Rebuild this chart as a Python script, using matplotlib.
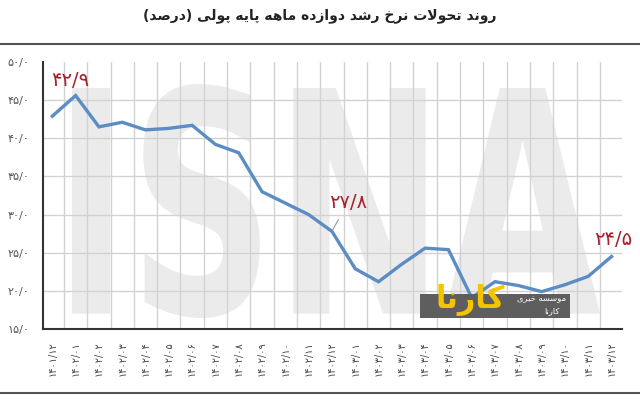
import matplotlib
matplotlib.use("Agg")
import matplotlib.pyplot as plt
from matplotlib.textpath import TextPath
from matplotlib.patches import PathPatch, Rectangle
from matplotlib.font_manager import FontProperties
from matplotlib.transforms import Affine2D
from matplotlib.lines import Line2D

# data (percent)
labels = ['1401/12', '1402/01', '1402/02', '1402/03', '1402/04', '1402/05', '1402/06',
          '1402/07', '1402/08', '1402/09', '1402/10', '1402/11', '1402/12',
          '1403/01', '1403/02', '1403/03', '1403/04', '1403/05', '1403/06',
          '1403/07', '1403/08', '1403/09', '1403/10', '1403/11', '1403/12']
growth = [42.9, 45.6, 41.5, 42.1, 41.1, 41.3, 41.7, 39.2, 38.1, 33.0, 31.5, 30.0, 27.8,
          22.9, 21.2, 23.5, 25.6, 25.4, 19.1, 21.2, 20.7, 19.9, 20.8, 21.9, 24.5]
yticks = [15, 20, 25, 30, 35, 40, 45, 50]
callouts = [(0, '42/9', 18, 36), (12, '27/8', 16, 29), (24, '24/5', 2, 17)]

title = 'روند تحولات نرخ رشد دوازده ماهه پایه پولی (درصد)'

# small arabic shaper (no bidi lib available): isolated, final, initial, medial
FORMS = {
    'ا': ('\uFE8D', '\uFE8E', None, None),
    'ب': ('\uFE8F', '\uFE90', '\uFE91', '\uFE92'),
    'پ': ('\uFB56', '\uFB57', '\uFB58', '\uFB59'),
    'ت': ('\uFE95', '\uFE96', '\uFE97', '\uFE98'),
    'ح': ('\uFEA1', '\uFEA2', '\uFEA3', '\uFEA4'),
    'خ': ('\uFEA5', '\uFEA6', '\uFEA7', '\uFEA8'),
    'د': ('\uFEA9', '\uFEAA', None, None),
    'ر': ('\uFEAD', '\uFEAE', None, None),
    'ز': ('\uFEAF', '\uFEB0', None, None),
    'س': ('\uFEB1', '\uFEB2', '\uFEB3', '\uFEB4'),
    'ش': ('\uFEB5', '\uFEB6', '\uFEB7', '\uFEB8'),
    'ص': ('\uFEB9', '\uFEBA', '\uFEBB', '\uFEBC'),
    'ک': ('\uFB8E', '\uFB8F', '\uFB90', '\uFB91'),
    'ل': ('\uFEDD', '\uFEDE', '\uFEDF', '\uFEE0'),
    'م': ('\uFEE1', '\uFEE2', '\uFEE3', '\uFEE4'),
    'ن': ('\uFEE5', '\uFEE6', '\uFEE7', '\uFEE8'),
    'ه': ('\uFEE9', '\uFEEA', '\uFEEB', '\uFEEC'),
    'و': ('\uFEED', '\uFEEE', None, None),
    'ی': ('\uFBFC', '\uFBFD', '\uFBFE', '\uFBFF'),
}


def joins_next(c):
    return c in FORMS and FORMS[c][2] is not None


def rtl(txt):
    res = []
    i = 0
    while i < len(txt):
        c = txt[i]
        if c not in FORMS:
            res.append(c)
            i += 1
            continue
        cp = i > 0 and joins_next(txt[i - 1])
        if c == 'ل' and i + 1 < len(txt) and txt[i + 1] == 'ا':
            res.append('\uFEFC' if cp else '\uFEFB')
            i += 2
            continue
        cn = joins_next(c) and i + 1 < len(txt) and txt[i + 1] in FORMS
        f = FORMS[c]
        if cp and cn:
            res.append(f[3])
        elif cp:
            res.append(f[1])
        elif cn:
            res.append(f[2])
        else:
            res.append(f[0])
        i += 1
    return ''.join(reversed(res)).translate(str.maketrans('()', ')('))


def fa(s):
    return s.translate(str.maketrans('0123456789', '۰۱۲۳۴۵۶۷۸۹'))


plt.rcParams['font.family'] = ['DejaVu Sans']

W, H = 640, 399
fig = plt.figure(figsize=(6.4, 3.99), dpi=100)

# title and rules
fig.text(320 / W, 1 - 16 / H, rtl(title), ha='center', va='center',
         fontsize=10, fontweight='bold', color='#222222')
fig.add_artist(Line2D([0, 1], [1 - 44 / H, 1 - 44 / H], color='#555555', lw=1.5))
fig.add_artist(Line2D([0, 1], [1 - 393 / H, 1 - 393 / H], color='#555555', lw=1.5))

# ISNA watermark
tp = TextPath((0, 0), 'ISNA', size=100, prop=FontProperties(family='DejaVu Sans', weight='bold'))
bb = tp.get_extents()
tr = (Affine2D().translate(-bb.x0, -bb.y0)
      .scale((600 - 72) / bb.width / W, (318 - 84) / bb.height / H)
      .translate(72 / W, (H - 318) / H))
fig.add_artist(PathPatch(tp, transform=tr + fig.transFigure, facecolor='#ebebeb',
                         edgecolor='none', zorder=-1))

ax = fig.add_axes([43 / W, (H - 329) / H, (622 - 43) / W, (329 - 62) / H])
ax.set_facecolor('none')

x = list(range(len(growth)))
for v in yticks[1:-1]:
    ax.axhline(v, color='#d2d2d2', lw=1, zorder=1)
for i in x:
    ax.axvline(i + 0.5, color='#d2d2d2', lw=1, zorder=1)

ax.plot(x, growth, color='#5b8cc4', lw=2.4, zorder=3, solid_joinstyle='miter')

for i, txt, dx, dy in callouts:
    if i == 12:
        ax.annotate(fa(txt), xy=(i, growth[i]), xytext=(dx, dy), textcoords='offset pixels',
                    ha='center', va='center', fontsize=14, color='#a8202c', zorder=4,
                    arrowprops=dict(arrowstyle='-', color='#999999', lw=0.8,
                                    shrinkA=4, shrinkB=1))
    else:
        ax.annotate(fa(txt), xy=(i, growth[i]), xytext=(dx, dy), textcoords='offset pixels',
                    ha='center', va='center', fontsize=14, color='#a8202c', zorder=4)

ax.set_xlim(-0.4, 24.45)
ax.set_ylim(15, 50)
ax.set_xticks(x)
ax.set_xticklabels([fa(l) for l in labels], rotation=90, fontsize=7, color='#444444')
ax.set_yticks(yticks)
ax.set_yticklabels([fa('%d/0' % v) for v in yticks], fontsize=8, color='#555555')
ax.tick_params(length=0, pad=10)
ax.tick_params(axis='x', pad=9)
for s in ['top', 'right']:
    ax.spines[s].set_visible(False)
for s in ['left', 'bottom']:
    ax.spines[s].set_color('#333333')
    ax.spines[s].set_linewidth(1.5)

# karna logo
fig.add_artist(Rectangle((420 / W, (H - 318) / H), 150 / W, 24 / H, transform=fig.transFigure,
                         facecolor='#5e5e5e', edgecolor='none', zorder=5))
fig.text(470 / W, 1 - 300 / H, rtl('کارنا'), ha='center', va='center', fontsize=22,
         fontweight='bold', color='#f5c400', zorder=6)
fig.text(542 / W, 1 - 299 / H, rtl('موسسه خبری'), ha='center', va='center', fontsize=6,
         color='white', zorder=6)
fig.text(552 / W, 1 - 311 / H, rtl('کارنا'), ha='center', va='center', fontsize=6,
         color='white', zorder=6)

fig.savefig('out.png', dpi=100)
